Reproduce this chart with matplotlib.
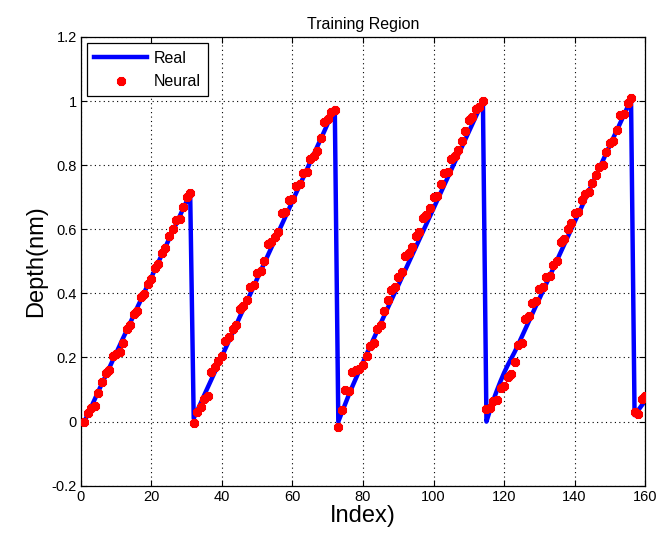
import matplotlib
matplotlib.use("Agg")
import matplotlib.pyplot as plt

index = list(range(1, 161))

real = [
    # cycle 1 (1-31)
    0.000, 0.024, 0.047, 0.071, 0.095, 0.119, 0.142, 0.166, 0.190, 0.213,
    0.237, 0.261, 0.284, 0.308, 0.332, 0.356, 0.379, 0.403, 0.427, 0.450,
    0.474, 0.498, 0.521, 0.545, 0.569, 0.593, 0.616, 0.640, 0.664, 0.687,
    0.711,
    # cycle 2 (32-72)
    0.010, 0.034, 0.058, 0.083, 0.107, 0.131, 0.155, 0.179, 0.204, 0.228,
    0.252, 0.276, 0.300, 0.325, 0.349, 0.373, 0.397, 0.421, 0.446, 0.470,
    0.494, 0.518, 0.542, 0.567, 0.591, 0.615, 0.639, 0.663, 0.688, 0.712,
    0.736, 0.760, 0.784, 0.809, 0.833, 0.857, 0.881, 0.905, 0.930, 0.954,
    0.978,
    # cycle 3 (73-114)
    0.000, 0.028, 0.056, 0.084, 0.110, 0.135, 0.160, 0.185, 0.210, 0.234,
    0.258, 0.282, 0.306, 0.330, 0.354, 0.378, 0.402, 0.425, 0.449, 0.473,
    0.497, 0.521, 0.545, 0.569, 0.593, 0.617, 0.641, 0.665, 0.689, 0.713,
    0.737, 0.761, 0.785, 0.809, 0.832, 0.856, 0.880, 0.904, 0.928, 0.952,
    0.976, 1.000,
    # cycle 4 (115-156)
    0.000, 0.035, 0.068, 0.098, 0.126, 0.152, 0.175, 0.196, 0.217, 0.240,
    0.264, 0.288, 0.312, 0.336, 0.360, 0.383, 0.407, 0.431, 0.455, 0.479,
    0.503, 0.527, 0.551, 0.575, 0.599, 0.623, 0.646, 0.670, 0.694, 0.718,
    0.742, 0.766, 0.790, 0.814, 0.838, 0.862, 0.886, 0.909, 0.933, 0.957,
    0.981, 1.005,
    # tail (157-160)
    0.020, 0.035, 0.050, 0.065,
]

neural = [
    # cycle 1
    -0.002, 0.028, 0.042, 0.048, 0.090, 0.125, 0.150, 0.160, 0.205, 0.212,
    0.218, 0.245, 0.290, 0.300, 0.335, 0.345, 0.390, 0.398, 0.430, 0.445,
    0.480, 0.492, 0.525, 0.540, 0.580, 0.600, 0.628, 0.632, 0.670, 0.700,
    0.712,
    # cycle 2
    -0.003, 0.030, 0.045, 0.070, 0.080, 0.155, 0.170, 0.190, 0.205, 0.250,
    0.265, 0.290, 0.300, 0.350, 0.360, 0.380, 0.420, 0.425, 0.465, 0.470,
    0.500, 0.555, 0.560, 0.575, 0.590, 0.650, 0.655, 0.690, 0.695, 0.735,
    0.742, 0.775, 0.780, 0.820, 0.830, 0.845, 0.885, 0.935, 0.945, 0.965,
    0.972,
    # cycle 3
    -0.016, 0.035, 0.100, 0.095, 0.155, 0.160, 0.165, 0.175, 0.205, 0.235,
    0.245, 0.290, 0.300, 0.345, 0.380, 0.410, 0.420, 0.450, 0.468, 0.515,
    0.525, 0.545, 0.580, 0.590, 0.635, 0.645, 0.665, 0.700, 0.705, 0.740,
    0.775, 0.780, 0.820, 0.830, 0.848, 0.875, 0.905, 0.940, 0.950, 0.975,
    0.980, 1.000,
    # cycle 4
    0.040, 0.042, 0.065, 0.068, 0.105, 0.110, 0.140, 0.148, 0.185, 0.240,
    0.245, 0.320, 0.330, 0.370, 0.375, 0.415, 0.420, 0.450, 0.455, 0.490,
    0.500, 0.560, 0.570, 0.600, 0.620, 0.650, 0.655, 0.690, 0.710, 0.715,
    0.745, 0.770, 0.795, 0.800, 0.840, 0.870, 0.875, 0.910, 0.955, 0.960,
    0.995, 1.008,
    # tail
    0.030, 0.025, 0.070, 0.080,
]

xticks = [0, 20, 40, 60, 80, 100, 120, 140, 160]
yticks = [-0.2, 0, 0.2, 0.4, 0.6, 0.8, 1, 1.2]
ytick_labels = ["-0.2", "0", "0.2", "0.4", "0.6", "0.8", "1", "1.2"]

plt.rcParams['font.family'] = ['Liberation Sans', 'DejaVu Sans']

fig = plt.figure(figsize=(6.6, 5.4), dpi=100)
ax = fig.add_axes([0.1225, 0.1006, 0.855, 0.831])

ax.plot(index, real, color='#0000ff', linewidth=3.2, label='Real', zorder=2)
ax.plot(index, neural, linestyle='none', marker=(8, 2, 0), markersize=6.5,
        markeredgewidth=2.7, color='#ff0000', markeredgecolor='#ff0000',
        label='Neural', zorder=3)

ax.set_xlim(0, 160)
ax.set_ylim(-0.2, 1.2)
ax.set_xticks(xticks)
ax.set_xticklabels([str(t) for t in xticks])
ax.set_yticks(yticks)
ax.set_yticklabels(ytick_labels)
ax.tick_params(direction='in', top=True, right=True, labelsize=10.5, length=4,
               width=0.8, pad=3)
ax.grid(True, linestyle=(0, (1, 3)), color='black', linewidth=0.8)
for s in ax.spines.values():
    s.set_linewidth(0.9)

ax.set_title('Training Region', fontsize=11.5, pad=6)
ax.set_xlabel('Index)', fontsize=17, labelpad=1)
ax.set_ylabel('Depth(nm)', fontsize=17, labelpad=3)

leg = ax.legend(loc='upper left', fontsize=11.5, fancybox=False, framealpha=1,
                edgecolor='black', borderaxespad=0.4, handlelength=3.3,
                borderpad=0.45, labelspacing=0.55, handletextpad=0.4)
leg.get_frame().set_linewidth(0.9)

fig.savefig('out.png', dpi=100)
